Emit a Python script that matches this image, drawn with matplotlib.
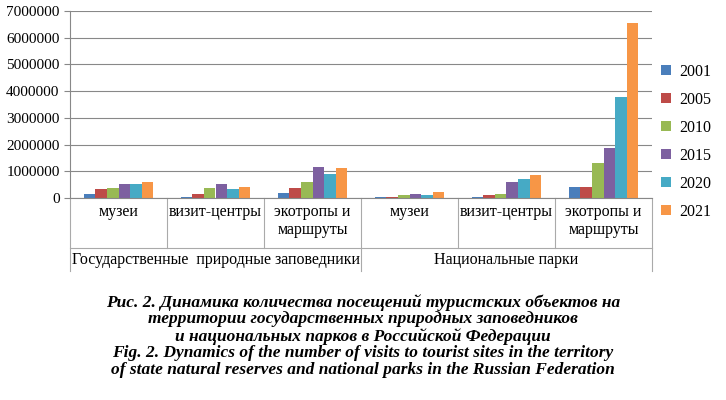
import numpy as np
import matplotlib.pyplot as plt
from matplotlib.lines import Line2D

plt.rcParams["font.family"] = "Liberation Serif"

years = ["2001", "2005", "2010", "2015", "2020", "2021"]
colors = ["#4a7ebb", "#be4b48", "#98b954", "#7d60a0", "#46aac5", "#f79646"]
categories = ["музеи", "визит-центры", "экотропы и\nмаршруты",
              "музеи", "визит-центры", "экотропы и\nмаршруты"]
groups = ["Государственные  природные заповедники", "Национальные парки"]
values = {
    "2001": [150000, 40000, 200000, 40000, 20000, 420000],
    "2005": [340000, 160000, 390000, 40000, 100000, 400000],
    "2010": [390000, 390000, 610000, 110000, 160000, 1300000],
    "2015": [540000, 510000, 1170000, 160000, 590000, 1880000],
    "2020": [540000, 340000, 910000, 100000, 700000, 3780000],
    "2021": [590000, 420000, 1110000, 210000, 860000, 6550000],
}
caption = ("Рис. 2. Динамика количества посещений туристских объектов на\n"
           "территории государственных природных заповедников\n"
           "и национальных парков в Российской Федерации\n"
           "Fig. 2. Dynamics of the number of visits to tourist sites in the territory\n"
           "of state natural reserves and national parks in the Russian Federation")

fig = plt.figure(figsize=(7.26, 4.0), dpi=100)
ax = fig.add_axes([70 / 726, 1 - 198 / 400, 582 / 726, 187 / 400])
x = np.arange(len(categories))
w = 0.12
for i, y in enumerate(years):
    ax.bar(x + (i - 2.5) * w, values[y], w, color=colors[i], label=y)
ax.set_xlim(-0.5, len(categories) - 0.5)
ax.set_ylim(0, 7000000)
ax.set_yticks(range(0, 7000001, 1000000))
ax.set_yticklabels([str(v) for v in range(0, 7000001, 1000000)], fontsize=11)
ax.yaxis.grid(True, color="#888888", linewidth=0.8)
ax.set_axisbelow(True)
ax.set_xticks([])
for s in ["top", "right"]:
    ax.spines[s].set_visible(False)
ax.spines["left"].set_color("#888888")
ax.spines["bottom"].set_color("#888888")
ax.tick_params(axis="y", length=4, color="#888888")

trans = ax.get_xaxis_transform()
for i, c in enumerate(categories):
    ax.text(i, -0.03, c, ha="center", va="top", fontsize=11.5, transform=trans, linespacing=1.2)
for xb in np.arange(-0.5, 6, 1):
    h = -0.39 if xb in (-0.5, 2.5, 5.5) else -0.27
    ax.add_line(Line2D([xb, xb], [0, h], transform=trans, color="#aaaaaa",
                       linewidth=0.8, clip_on=False))
ax.add_line(Line2D([-0.5, 5.5], [-0.27, -0.27], transform=trans, color="#aaaaaa",
                   linewidth=0.8, clip_on=False))
ax.text(1, -0.29, groups[0], ha="center", va="top", fontsize=11.5, transform=trans)
ax.text(4, -0.29, groups[1], ha="center", va="top", fontsize=11.5, transform=trans)

ax.legend(loc="center left", bbox_to_anchor=(1.005, 0.3), frameon=False,
          fontsize=11.5, handlelength=0.6, handleheight=0.6, labelspacing=0.75,
          handletextpad=0.5, borderaxespad=0)

fig.text(0.5, 0.265, caption, ha="center", va="top", fontsize=12.5,
         fontweight="bold", fontstyle="italic", linespacing=1.05)

fig.savefig("out.png", dpi=100)
